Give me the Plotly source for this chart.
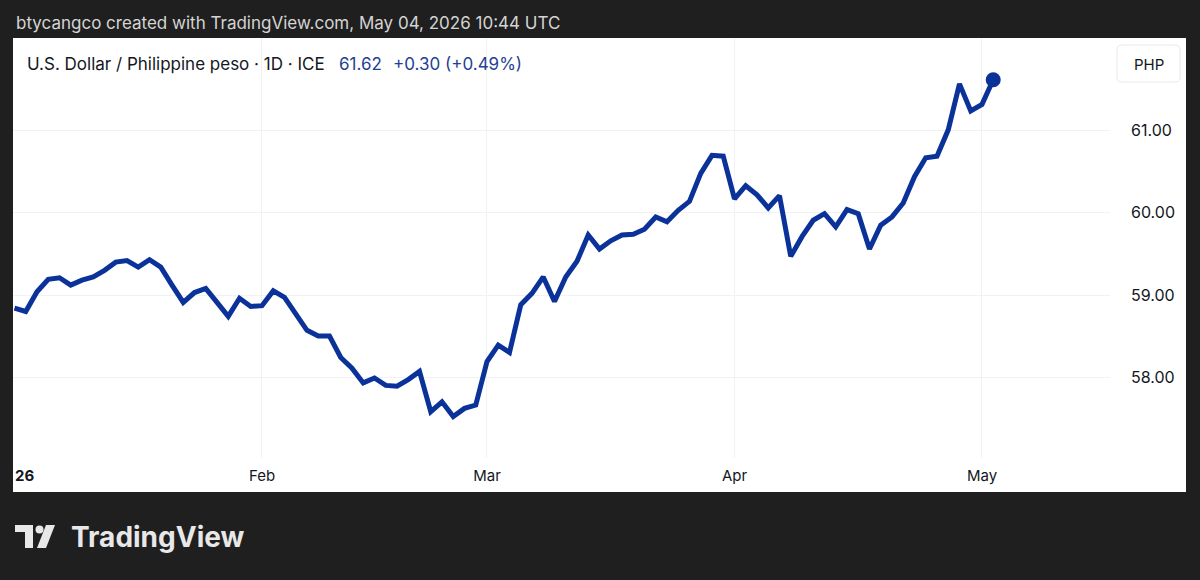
import pandas as pd
import plotly.graph_objects as go

# ---------------- data ----------------
dates = pd.bdate_range("2026-01-01", "2026-05-04")  # trading days (weekdays)
jan = [58.84, 58.80, 59.04, 59.19, 59.21, 59.12, 59.18, 59.22, 59.30, 59.40, 59.42,
       59.34, 59.43, 59.34, 59.12, 58.91, 59.03, 59.08, 58.91, 58.74, 58.96, 58.86]
feb = [58.87, 59.05, 58.97, 58.77, 58.57, 58.50, 58.50, 58.24, 58.11, 57.93,
       57.99, 57.90, 57.89, 57.97, 58.07, 57.58, 57.70, 57.52, 57.62, 57.66]
mar = [58.19, 58.39, 58.30, 58.88, 59.02, 59.22, 58.92, 59.22, 59.41, 59.73, 59.56,
       59.66, 59.73, 59.74, 59.80, 59.95, 59.89, 60.03, 60.14, 60.48, 60.70, 60.69]
apr = [60.17, 60.33, 60.22, 60.06, 60.21, 59.47, 59.71, 59.91, 59.99, 59.83, 60.04,
       59.99, 59.56, 59.85, 59.95, 60.12, 60.44, 60.67, 60.69, 61.01, 61.57, 61.24]
may = [61.32, 61.62]
values = jan + feb + mar + apr + may

x_tickvals = ["2026-02-02", "2026-03-02", "2026-04-01", "2026-05-01"]
x_ticktext = ["Feb", "Mar", "Apr", "May"]
y_tickvals = [58, 59, 60, 61]

title_text = "U.S. Dollar / Philippine peso · 1D · ICE"
last_text = "61.62"
change_text = "+0.30 (+0.49%)"
header_text = "btycangco created with TradingView.com, May 04, 2026 10:44 UTC"

# ---------------- styling ----------------
LINE = "#0b3299"
BLUE_TXT = "#233f96"
TXT = "#131722"
BG = "#1f1f1f"
FONT = "Inter"

W, H = 1200, 580
L, R, T, B = 13, 1110, 38, 458


def px(x):
    return (x - L) / (R - L)


def py(y):
    return (B - y) / (B - T)


fig = go.Figure()
fig.add_trace(go.Scatter(
    x=dates, y=values, mode="lines",
    line=dict(color=LINE, width=5),
    hoverinfo="skip", showlegend=False,
))
fig.add_trace(go.Scatter(
    x=[dates[-1]], y=[values[-1]], mode="markers",
    marker=dict(color=LINE, size=15),
    hoverinfo="skip", showlegend=False,
))

shapes = [
    # white chart panel
    dict(type="rect", xref="paper", yref="paper",
         x0=px(13), x1=px(1186), y0=py(492), y1=py(38),
         fillcolor="white", line=dict(width=0), layer="below"),
]


def rrect(x0, y0, x1, y1, r):
    X0, X1 = px(x0), px(x1)
    pts = (f"M{px(x0 + r)},{py(y0)} L{px(x1 - r)},{py(y0)} "
           f"Q{X1},{py(y0)} {X1},{py(y0 + r)} L{X1},{py(y1 - r)} "
           f"Q{X1},{py(y1)} {px(x1 - r)},{py(y1)} L{px(x0 + r)},{py(y1)} "
           f"Q{X0},{py(y1)} {X0},{py(y1 - r)} L{X0},{py(y0 + r)} "
           f"Q{X0},{py(y0)} {px(x0 + r)},{py(y0)} Z")
    return pts


shapes.append(dict(type="path", xref="paper", yref="paper",
                   path=rrect(1117, 45, 1180, 82, 5),
                   fillcolor="white", line=dict(color="#e6e8ee", width=1), layer="above"))

# TradingView logo icon
LOGO = "#e8e8e8"


def poly(points):
    s = "M" + " L".join(f"{px(a)},{py(b)}" for a, b in points) + " Z"
    return s


shapes.append(dict(type="path", xref="paper", yref="paper",
                   path=poly([(15, 525), (33, 525), (33, 548), (25, 548), (25, 532), (15, 532)]),
                   fillcolor=LOGO, line=dict(width=0)))
shapes.append(dict(type="circle", xref="paper", yref="paper",
                   x0=px(35.5), x1=px(43.5), y0=py(533.5), y1=py(525.5),
                   fillcolor=LOGO, line=dict(width=0)))
shapes.append(dict(type="path", xref="paper", yref="paper",
                   path=poly([(46, 525), (55, 525), (46, 548), (37, 548)]),
                   fillcolor=LOGO, line=dict(width=0)))

annotations = [
    dict(text=header_text, x=px(14), y=py(23), xanchor="left", yanchor="middle",
         font=dict(family=FONT, size=17, color="#d4d4d4")),
    dict(text=title_text, x=px(25), y=py(64), xanchor="left", yanchor="middle",
         font=dict(family=FONT, size=17, color=TXT)),
    dict(text=last_text, x=px(337), y=py(64), xanchor="left", yanchor="middle",
         font=dict(family=FONT, size=17, color=BLUE_TXT)),
    dict(text=change_text, x=px(391), y=py(64), xanchor="left", yanchor="middle",
         font=dict(family=FONT, size=17, color=BLUE_TXT)),
    dict(text="PHP", x=px(1148.5), y=py(64), xanchor="center", yanchor="middle",
         font=dict(family=FONT, size=15, color=TXT)),
    dict(text="<b>26</b>", x=px(13), y=py(475), xanchor="left", yanchor="middle",
         font=dict(family=FONT, size=15, color=TXT)),
    dict(text="<b>TradingView</b>", x=px(69), y=py(537), xanchor="left", yanchor="middle",
         font=dict(family=FONT, size=28, color=LOGO)),
]
for a in annotations:
    a.update(xref="paper", yref="paper", showarrow=False)

fig.update_layout(
    width=W, height=H,
    margin=dict(l=L, r=W - R, t=T, b=H - B, pad=0),
    paper_bgcolor=BG, plot_bgcolor="white",
    font=dict(family=FONT, color=TXT, size=15),
    shapes=shapes, annotations=annotations,
    showlegend=False,
    xaxis=dict(
        type="date",
        rangebreaks=[dict(bounds=["sat", "mon"])],
        range=["2025-12-31 20:48", "2026-05-18 09:07"],
        tickmode="array", tickvals=x_tickvals, ticktext=x_ticktext,
        showgrid=True, gridcolor="#f0f2f6", gridwidth=1,
        zeroline=False, showline=False,
        ticks="outside", ticklen=4, tickcolor="rgba(0,0,0,0)",
        tickfont=dict(family=FONT, size=15, color=TXT),
        fixedrange=True,
    ),
    yaxis=dict(
        side="right",
        range=[57.016, 62.128],
        tickmode="array", tickvals=y_tickvals, tickformat=".2f",
        showgrid=True, gridcolor="#f0f2f6", gridwidth=1,
        zeroline=False, showline=False,
        ticks="", ticklabelstandoff=20,
        tickfont=dict(family=FONT, size=16, color=TXT),
        fixedrange=True,
    ),
)

fig.write_html("out.html", config=dict(displayModeBar=False))
